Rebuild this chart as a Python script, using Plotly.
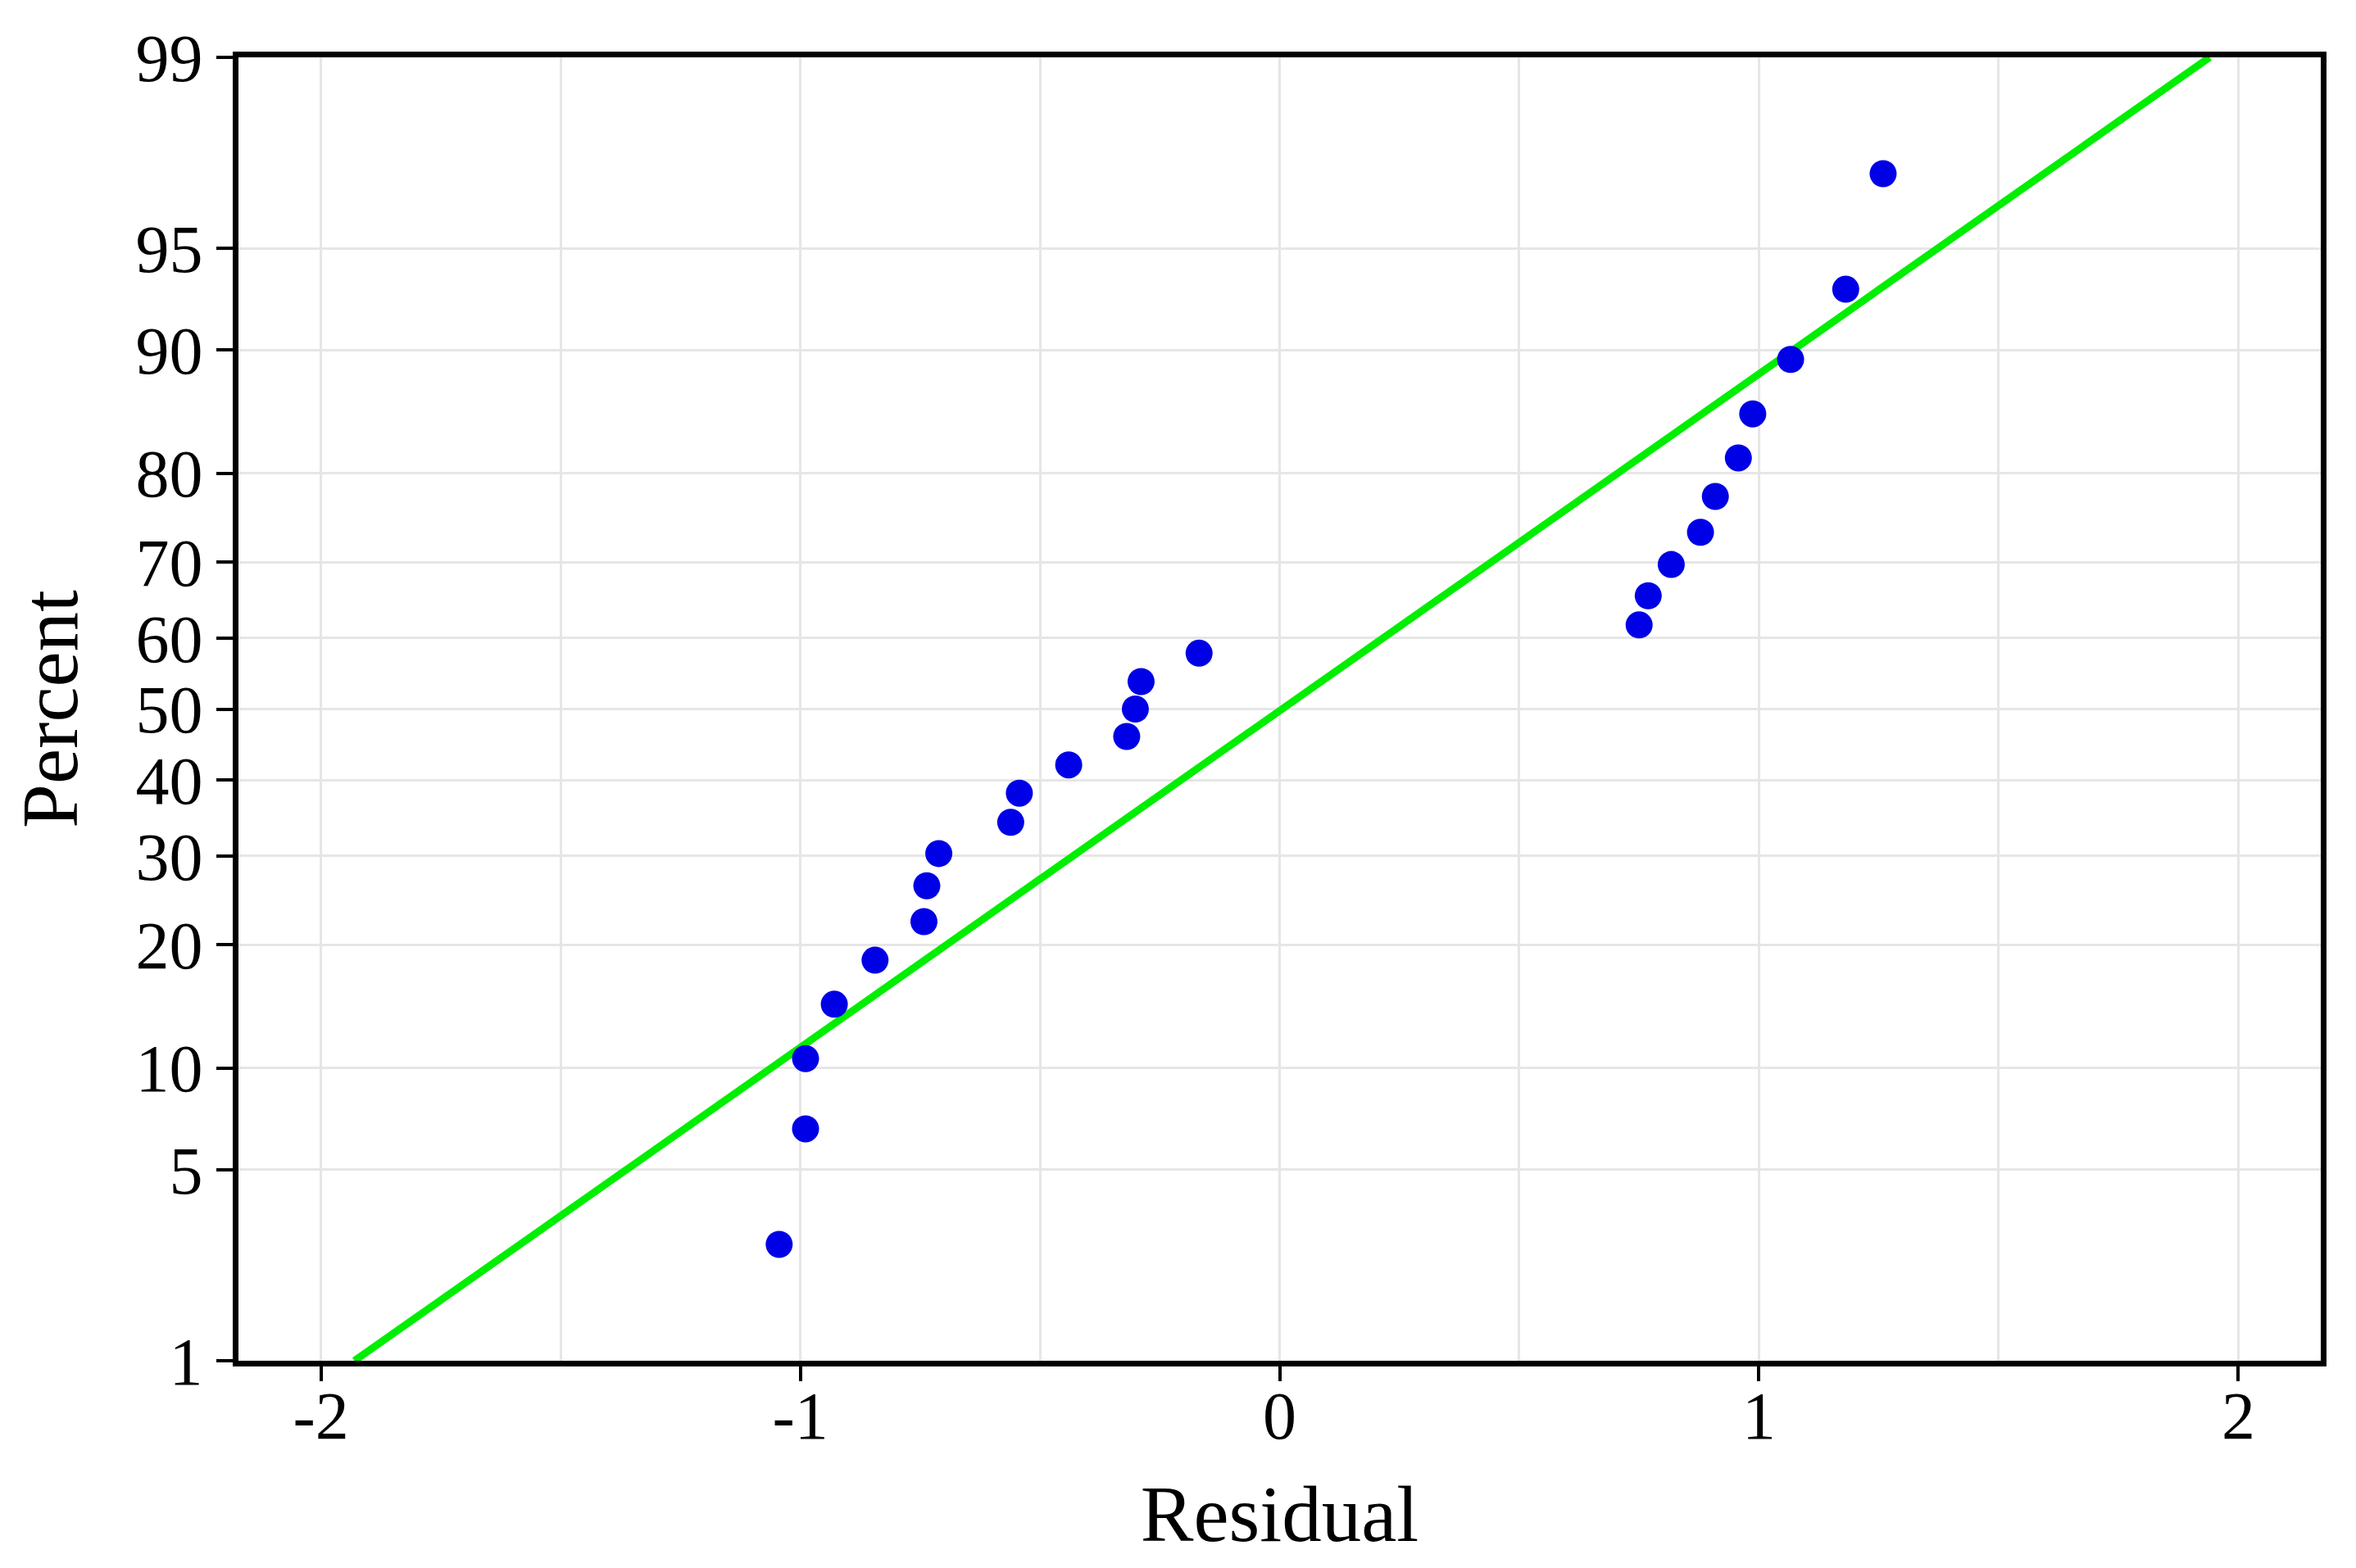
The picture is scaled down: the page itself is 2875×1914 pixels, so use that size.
from statistics import NormalDist
import plotly.graph_objects as go

# residuals (x) and their cumulative percent (y)
residual = [-1.044, -0.989, -0.989, -0.929, -0.844, -0.742, -0.736, -0.711,
            -0.561, -0.543, -0.440, -0.319, -0.301, -0.289, -0.168,
            0.750, 0.769, 0.817, 0.878, 0.909, 0.957, 0.987, 1.066, 1.181, 1.259]
percent = [2.8, 6.7, 10.6, 14.6, 18.5, 22.4, 26.4, 30.3, 34.3, 38.2, 42.1, 46.1,
           50.0, 53.9, 57.9, 61.8, 65.7, 69.7, 73.6, 77.6, 81.5, 85.4, 89.4, 93.3, 97.2]

# fitted normal reference line endpoints
fit_residual = [-1.93, 1.94]
fit_percent = [1, 99]

y_ticks = [1, 5, 10, 20, 30, 40, 50, 60, 70, 80, 90, 95, 99]
x_ticks = [-2, -1, 0, 1, 2]

# probability scale: percent -> standard normal quantile
probit = lambda p: NormalDist().inv_cdf(p / 100.0)

FONT = "Liberation Serif"
GRID = "#e6e6e6"

fig = go.Figure()
fig.add_trace(go.Scatter(
    x=fit_residual, y=[probit(p) for p in fit_percent],
    mode="lines", line=dict(color="#00ee00", width=9),
    hoverinfo="skip", showlegend=False,
))
fig.add_trace(go.Scatter(
    x=residual, y=[probit(p) for p in percent],
    mode="markers", marker=dict(color="#0000e6", size=33, line=dict(width=0)),
    showlegend=False,
))

# page body has an 8px margin, so the figure is a bit smaller than the window
fig.update_layout(
    width=2859, height=1898, autosize=False,
    margin=dict(l=283, r=35, t=62, b=245),
    paper_bgcolor="white", plot_bgcolor="white",
    font=dict(family=FONT, color="black"),
)
fig.update_xaxes(
    range=[-2.172, 2.172], tickvals=x_ticks, ticktext=[str(v) for v in x_ticks],
    ticks="outside", ticklen=18, tickwidth=4, tickcolor="black", ticklabelstandoff=-28,
    tickfont=dict(size=82), showline=True, linewidth=7, linecolor="black", mirror=True,
    showgrid=True, gridcolor=GRID, gridwidth=3, zeroline=False,
    minor=dict(dtick=0.5, tick0=0, showgrid=True, gridcolor=GRID, gridwidth=3, ticks=""),
    title=dict(text="Residual", font=dict(size=97), standoff=42),
)
fig.update_yaxes(
    range=[probit(1), probit(99)], tickvals=[probit(p) for p in y_ticks],
    ticktext=[str(p) for p in y_ticks],
    ticks="outside", ticklen=20, tickwidth=4, tickcolor="black",
    tickfont=dict(size=82), showline=True, linewidth=7, linecolor="black", mirror=True,
    showgrid=True, gridcolor=GRID, gridwidth=3, zeroline=False,
    title=dict(text="Percent", font=dict(size=97), standoff=50),
)

fig.write_html("out.html")
